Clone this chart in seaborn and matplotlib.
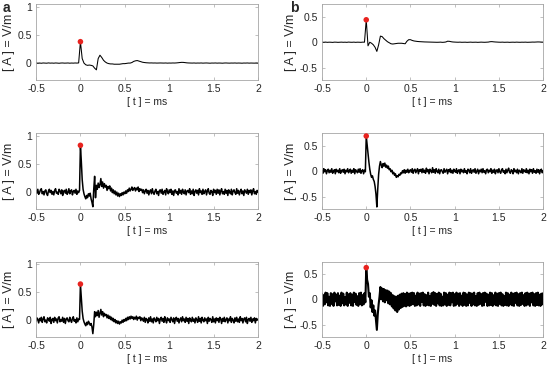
import numpy as np
import pandas as pd
import seaborn as sns
import matplotlib.pyplot as plt

# sample times (ms): coarse grid for the quiet traces, fine grid for the noisy ones
t_coarse = np.linspace(-0.5, 2.0, 126)
t_fine = np.linspace(-0.5, 2.0, 251)

# column a, top (coarse)
a1 = [0.002, -0.002, 0.001, -0.003, 0.002, 0.000, -0.002, 0.003, -0.001, 0.001,
      -0.002, 0.002, 0.000, -0.003, 0.001, 0.002, -0.001, 0.000, 0.002, -0.002,
      0.001, -0.001, 0.002, 0.000, 0.003,
      0.38, 0.08, 0.00, -0.03, -0.04, -0.035, -0.04, -0.05, -0.09, -0.12, 0.08, 0.14, 0.10, 0.05, 0.02, 0.00,
      -0.01, -0.015, -0.015, -0.02, -0.02, -0.02, -0.02, -0.015, -0.01, -0.01,
      -0.005, 0.0, 0.0, 0.01, 0.03, 0.04, 0.045, 0.035, 0.025, 0.015,
      0.01, 0.006, 0.004, 0.002, 0.003, 0.001, 0.002, 0.000, 0.001, 0.002,
      0.001, 0.000, 0.002, -0.001, 0.001, 0.000, 0.002, 0.001, 0.003, 0.006,
      0.010, 0.013, 0.012, 0.008, 0.004, 0.002, 0.001, 0.000, 0.002, -0.001,
      0.001, 0.000, 0.002, -0.001, 0.001, 0.002, 0.000, -0.002, 0.001, 0.000,
      0.002, -0.001, 0.001, 0.000, -0.002, 0.001, 0.002, 0.000, -0.001, 0.001,
      0.000, 0.002, -0.001, 0.001, 0.000, -0.002, 0.001, 0.000, 0.002, -0.001,
      0.001, 0.000, -0.001, 0.002, 0.000]

# column a, middle (fine)
a2 = [0.03, -0.02, 0.05, -0.04, -0.01, 0.04, 0.06, -0.03, 0.01, -0.05,
      0.02, 0.04, -0.03, -0.06, 0.02, 0.05, -0.01, 0.03, -0.04, 0.01,
      -0.05, 0.03, 0.06, -0.02, 0.00, -0.04, 0.05, 0.02, -0.03, 0.04,
      -0.06, 0.01, 0.03, -0.02, 0.05, -0.04, -0.01, 0.06, -0.03, 0.02,
      0.04, -0.05, 0.01, 0.03, -0.02, 0.05, -0.04, 0.02, -0.01, 0.03,
      0.83, 0.55, 0.22, 0.05, -0.03, -0.08, -0.12, -0.06, -0.10, -0.03,
      -0.07, -0.02, -0.12, -0.18, -0.26, 0.05, 0.28, -0.10, 0.12, 0.05,
      0.16, 0.08, 0.13, 0.24, 0.10, 0.18, 0.07, 0.15, 0.09, 0.12,
      0.03, 0.10, 0.06, 0.11, 0.02, 0.07, -0.01, 0.04, -0.03, 0.02,
      -0.05, 0.00, -0.07, -0.02, -0.08, -0.03, -0.06, -0.01, -0.05, 0.00,
      -0.03,
      0.02, -0.02, 0.04, 0.01, 0.07, 0.02, 0.05, 0.09, 0.03, 0.06,
      0.08, 0.02, 0.07, 0.04, 0.09, 0.01, 0.06, 0.03, 0.05, -0.01,
      0.04, -0.03, 0.02, 0.05, -0.02, 0.03, -0.05, 0.01, 0.04, -0.03,
      0.06, -0.01, -0.04, 0.02, 0.05, -0.03, 0.01, -0.06, 0.03, 0.04,
      -0.02, 0.05, -0.04, 0.00, 0.03, -0.05, 0.06, 0.01, -0.03, 0.04,
      -0.01, 0.05, -0.04, 0.02, -0.06, 0.03, 0.04, -0.02, 0.01, -0.05,
      0.06, -0.02, 0.03, -0.04, 0.05, 0.00, -0.03, 0.04, -0.05, 0.02,
      0.03, -0.01, 0.06, -0.04, 0.02, -0.03, 0.05, -0.06, 0.01, 0.04,
      -0.02, 0.03, -0.05, 0.06, -0.01, 0.02, -0.04, 0.05, -0.03, 0.01,
      0.04, -0.05, 0.02, 0.06, -0.02, -0.04, 0.03, 0.01, -0.06, 0.05,
      -0.01, 0.03, -0.04, 0.05, -0.02, 0.04, -0.05, 0.02, 0.06, -0.03,
      0.01, -0.04, 0.05, -0.02, 0.03, -0.06, 0.04, 0.00, -0.03, 0.05,
      -0.05, 0.02, 0.04, -0.01, -0.04, 0.06, -0.02, 0.03, -0.05, 0.01,
      0.05, -0.03, 0.02, -0.06, 0.04, 0.01, -0.02, 0.05, -0.04, 0.03,
      -0.01, 0.04, -0.05, 0.02, 0.06, -0.03, 0.01, -0.04, 0.03, 0.00]

# column a, bottom (fine)
a3 = [-0.02, 0.04, 0.01, -0.05, 0.03, -0.01, 0.05, -0.04, 0.02, 0.06,
      -0.03, 0.00, -0.05, 0.04, 0.02, -0.02, 0.05, -0.06, 0.01, 0.03,
      -0.04, 0.05, -0.01, 0.02, -0.05, 0.04, 0.06, -0.03, 0.01, -0.02,
      0.05, -0.04, 0.03, -0.06, 0.02, 0.04, -0.01, -0.03, 0.05, 0.00,
      -0.04, 0.03, 0.06, -0.02, 0.01, -0.05, 0.04, -0.03, 0.02, 0.01,
      0.64, 0.40, 0.16, 0.03, -0.03, -0.07, -0.10, -0.04, -0.08, -0.02,
      -0.05, -0.09, -0.06, -0.12, -0.24, -0.08, 0.15, 0.06, 0.14, 0.08,
      0.17, 0.05, 0.12, 0.19, 0.09, 0.15, 0.06, 0.12, 0.08, 0.10,
      0.04, 0.09, 0.03, 0.07, 0.01, 0.05, -0.01, 0.03, -0.03, 0.01,
      -0.05, -0.01, -0.06, -0.02, -0.07, -0.03, -0.05, 0.00, -0.04, 0.01,
      -0.02,
      0.03, -0.01, 0.05, 0.01, 0.06, 0.02, 0.07, 0.03, 0.06, 0.01,
      0.05, 0.02, 0.07, 0.00, 0.05, 0.03, 0.06, -0.01, 0.04, 0.02,
      -0.02, 0.05, -0.04, 0.03, 0.01, -0.05, 0.04, -0.02, 0.06, -0.03,
      0.02, -0.05, 0.04, 0.01, -0.03, 0.05, -0.01, 0.03, -0.06, 0.02,
      0.05, -0.02, 0.03, -0.04, 0.06, 0.00, -0.05, 0.04, -0.01, 0.02,
      -0.04, 0.05, 0.01, -0.03, 0.04, -0.06, 0.02, 0.05, -0.02, 0.03,
      -0.05, 0.01, 0.04, -0.03, 0.06, -0.01, 0.02, -0.04, 0.05, -0.02,
      0.03, -0.06, 0.04, 0.00, -0.03, 0.05, -0.02, 0.02, -0.05, 0.04,
      0.01, -0.04, 0.06, -0.02, 0.03, -0.05, 0.05, 0.00, -0.03, 0.04,
      -0.01, 0.02, -0.06, 0.05, -0.02, 0.03, 0.01, -0.04, 0.06, -0.03,
      0.02, -0.05, 0.04, -0.01, 0.03, -0.04, 0.05, 0.02, -0.06, 0.03,
      -0.02, 0.05, -0.03, 0.01, 0.04, -0.05, 0.02, -0.01, 0.06, -0.04,
      0.03, 0.00, -0.05, 0.04, -0.02, 0.05, -0.03, 0.02, -0.04, 0.06,
      -0.01, 0.03, -0.05, 0.02, 0.04, -0.03, 0.05, -0.06, 0.01, 0.03,
      -0.02, 0.05, -0.04, 0.02, -0.01, 0.04, -0.05, 0.03, 0.00, 0.02]

# column b, top (coarse)
b1 = [0.002, -0.001, 0.003, -0.002, 0.001, 0.000, -0.003, 0.002, 0.001, -0.002,
      0.000, 0.002, -0.001, 0.001, -0.002, 0.003, 0.000, -0.001, 0.002, -0.002,
      0.001, 0.000, -0.002, 0.002, 0.001,
      0.44, -0.07, 0.00, -0.02, -0.05, -0.10, -0.18, -0.05, 0.12, 0.11, 0.07, 0.04, 0.01, -0.01, -0.03, -0.035,
      -0.03, -0.025, -0.02, -0.02, -0.02, -0.025, -0.03, 0.02, 0.05, 0.05,
      0.035, 0.025, 0.02, 0.015, 0.012, 0.01, 0.008, 0.006, 0.005, 0.004,
      0.003, 0.002, 0.001, 0.000, -0.001, 0.000, 0.002, -0.002, 0.000, 0.005,
      0.02, 0.018, 0.01, 0.005, 0.003, 0.001, 0.000, 0.002, -0.001, 0.000,
      0.001, -0.002, 0.000, 0.002, -0.001, 0.000, 0.001, -0.002, 0.000, 0.002,
      0.000, -0.001, 0.001, 0.003, 0.010, 0.012, 0.008, 0.005, 0.003, 0.001,
      0.000, 0.002, -0.001, 0.000, 0.001, -0.002, 0.000, 0.001, -0.001, 0.002,
      0.000, -0.001, 0.001, 0.000, 0.002, -0.001, 0.000, 0.001, 0.003, 0.002,
      0.004, 0.006, 0.005, 0.003, 0.002]

# column b, middle (fine)
b2 = [0.02, -0.04, 0.05, -0.01, 0.03, -0.05, 0.01, 0.04, -0.03, 0.02,
      -0.02, 0.05, -0.04, 0.00, 0.03, -0.05, 0.04, -0.01, 0.02, -0.03,
      0.05, -0.04, 0.01, 0.03, -0.02, 0.04, -0.05, 0.02, -0.01, 0.05,
      -0.03, 0.01, 0.04, -0.04, 0.02, -0.02, 0.05, -0.05, 0.03, 0.00,
      -0.03, 0.04, -0.02, 0.05, -0.04, 0.01, 0.03, -0.05, 0.02, -0.01,
      0.69, 0.52, 0.36, 0.18, 0.04, -0.06, -0.12, -0.09, -0.16, -0.20,
      -0.30, -0.45, -0.70, -0.35, -0.06, 0.10, 0.19, 0.12, 0.07, 0.15,
      0.10, 0.16, 0.08, 0.12, 0.06, 0.10, 0.03, 0.05, -0.01, 0.02,
      -0.05, -0.02, -0.08, -0.05, -0.12, -0.09, -0.11, -0.06, -0.08, -0.03,
      -0.05, 0.01, -0.03, 0.03, -0.04, 0.02, -0.02, 0.04, -0.03, 0.01,
      0.03,
      -0.02, 0.05, -0.04, 0.02, 0.04, -0.03, 0.01, 0.05, -0.05, 0.03,
      0.00, 0.04, -0.03, 0.05, -0.02, 0.02, -0.04, 0.06, -0.01, 0.03,
      -0.05, 0.04, 0.01, -0.03, 0.07, -0.02, 0.03, -0.04, 0.05, 0.00,
      -0.03, 0.04, -0.05, 0.02, 0.03, -0.01, -0.04, 0.05, -0.02, 0.01,
      0.04, -0.05, 0.03, -0.01, 0.05, -0.03, 0.02, -0.04, 0.04, 0.00,
      -0.02, 0.05, -0.04, 0.01, 0.03, -0.05, 0.04, -0.01, 0.02, -0.03,
      0.05, -0.02, 0.01, -0.05, 0.04, 0.02, -0.03, 0.05, -0.04, 0.01,
      0.03, -0.02, 0.05, -0.04, 0.00, 0.04, -0.05, 0.02, -0.01, 0.04,
      -0.03, 0.05, -0.02, 0.01, -0.05, 0.03, 0.04, -0.03, 0.02, -0.01,
      0.05, -0.04, 0.02, -0.02, 0.04, -0.05, 0.01, 0.03, -0.03, 0.05,
      -0.01, -0.04, 0.03, 0.05, -0.02, 0.01, -0.05, 0.04, -0.03, 0.02,
      0.06, -0.02, -0.04, 0.03, 0.01, -0.05, 0.05, -0.01, 0.02, -0.03,
      0.04, -0.05, 0.02, 0.00, -0.03, 0.05, -0.04, 0.03, 0.01, -0.02,
      0.05, -0.03, 0.02, -0.05, 0.04, -0.01, 0.03, -0.04, 0.05, -0.02,
      0.01, -0.04, 0.04, -0.02, 0.03, -0.05, 0.02, 0.04, -0.03, 0.01]

# column b, bottom (fine)
b3 = [0.11, -0.13, 0.08, -0.10, 0.13, -0.06, 0.12, -0.12, 0.05, -0.13,
      0.12, -0.09, 0.10, -0.13, 0.13, -0.04, 0.09, -0.12, 0.12, -0.11,
      0.07, -0.13, 0.13, -0.08, 0.11, -0.12, 0.04, -0.10, 0.13, -0.13,
      0.10, -0.07, 0.12, -0.12, 0.09, -0.13, 0.13, -0.05, 0.11, -0.11,
      0.06, -0.13, 0.12, -0.09, 0.13, -0.12, 0.08, -0.10, 0.12, -0.06,
      0.62, 0.38, 0.30, 0.05, 0.12, -0.16, -0.02, -0.25, -0.12, -0.32,
      -0.22, -0.42, -0.60, -0.30, -0.10, 0.05, 0.24, 0.00, 0.21, -0.04,
      0.20, -0.06, 0.18, -0.02, 0.17, -0.08, 0.15, -0.10, 0.12, -0.14,
      0.08, -0.18, 0.06, -0.22, 0.05, -0.25, 0.07, -0.20, 0.09, -0.17,
      0.11, -0.15, 0.12, -0.13, 0.10, -0.14, 0.13, -0.12, 0.11, -0.13,
      0.12,
      -0.11, 0.13, -0.09, 0.12, -0.13, 0.07, -0.12, 0.13, -0.10, 0.11,
      -0.13, 0.12, -0.05, 0.13, -0.12, 0.10, -0.13, 0.08, -0.11, 0.13,
      -0.12, 0.06, -0.13, 0.12, -0.09, 0.14, -0.11, 0.12, -0.13, 0.10,
      -0.08, 0.13, -0.12, 0.11, -0.13, 0.05, -0.12, 0.13, -0.10, 0.12,
      -0.13, 0.09, -0.11, 0.13, -0.12, 0.12, -0.06, 0.13, -0.13, 0.10,
      -0.12, 0.13, -0.09, 0.11, -0.13, 0.12, -0.10, 0.07, -0.13, 0.13,
      -0.11, 0.12, -0.13, 0.09, -0.12, 0.13, -0.07, 0.12, -0.13, 0.11,
      -0.10, 0.13, -0.12, 0.06, -0.13, 0.12, -0.11, 0.13, -0.09, 0.10,
      -0.13, 0.12, -0.12, 0.13, -0.05, 0.11, -0.13, 0.09, -0.12, 0.13,
      -0.11, 0.12, -0.13, 0.08, -0.10, 0.13, -0.12, 0.11, -0.13, 0.12,
      -0.09, 0.13, -0.12, 0.10, -0.13, 0.06, -0.11, 0.13, -0.12, 0.12,
      -0.13, 0.09, -0.10, 0.13, -0.12, 0.11, -0.13, 0.12, -0.07, 0.13,
      -0.12, 0.10, -0.13, 0.12, -0.11, 0.13, -0.09, 0.08, -0.13, 0.12,
      -0.12, 0.13, -0.10, 0.11, -0.13, 0.12, -0.06, 0.13, -0.12, 0.10,
      -0.13, 0.12, -0.11, 0.13, -0.12, 0.09, -0.13, 0.11, -0.10, 0.12]

sns.set_theme(style="white")
plt.rcParams['font.family'] = ['Liberation Sans', 'DejaVu Sans']

fig = plt.figure(figsize=(5.5, 3.71), dpi=100)

col_x = [0.0655, 0.5855]
col_w = [0.4036, 0.4020]
row_y = [0.7844, 0.4367, 0.0916]
row_h = 0.2035

panels = [[(t_coarse, a1), (t_fine, a2), (t_fine, a3)],
          [(t_coarse, b1), (t_fine, b2), (t_fine, b3)]]
line_w = [[0.75, 1.1, 1.1], [0.75, 1.1, 1.5]]
ylims = [(-0.3, 1.04), (-0.74, 0.74)]
yticks = [[0, 0.5, 1], [-0.5, 0, 0.5]]
frame_grey = '#a6a6a6'
text_grey = '#262626'

for c in range(2):
    for r in range(3):
        tt, vals = panels[c][r]
        ax = fig.add_axes([col_x[c], row_y[r], col_w[c], row_h])
        df = pd.DataFrame({'t': tt, 'A': vals})
        sns.lineplot(data=df, x='t', y='A', ax=ax, color='black',
                     lw=line_w[c][r], estimator=None)
        pk = df.loc[df['A'].idxmax()]
        sns.scatterplot(x=[pk['t']], y=[pk['A']], ax=ax, color='#e8231f', s=16,
                        edgecolor='none', zorder=5)
        ax.set_xlim(-0.5, 2)
        ax.set_ylim(*ylims[c])
        ax.set_xticks([-0.5, 0, 0.5, 1, 1.5, 2])
        ax.set_xticklabels(['-0.5', '0', '0.5', '1', '1.5', '2'])
        ax.set_yticks(yticks[c])
        ax.set_yticklabels([f'{v:g}' for v in yticks[c]])
        ax.tick_params(direction='in', length=2.5, width=0.5, top=True, right=True,
                       bottom=True, left=True, labelsize=7.5, colors=frame_grey,
                       labelcolor=text_grey, pad=3)
        for s in ax.spines.values():
            s.set_color(frame_grey)
            s.set_linewidth(0.6)
        ax.set_xlabel('[ t ] = ms', fontsize=7.5, color=text_grey, labelpad=2,
                      family=['Liberation Sans Narrow', 'Liberation Sans'])
        ax.set_ylabel('[ A ] = V/m', fontsize=9, color=text_grey, labelpad=2)

fig.text(0.005, 0.998, 'a', fontsize=10, fontweight='bold', va='top', ha='left')
fig.text(0.527, 0.998, 'b', fontsize=10, fontweight='bold', va='top', ha='left')

fig.savefig('out.png', dpi=100)
